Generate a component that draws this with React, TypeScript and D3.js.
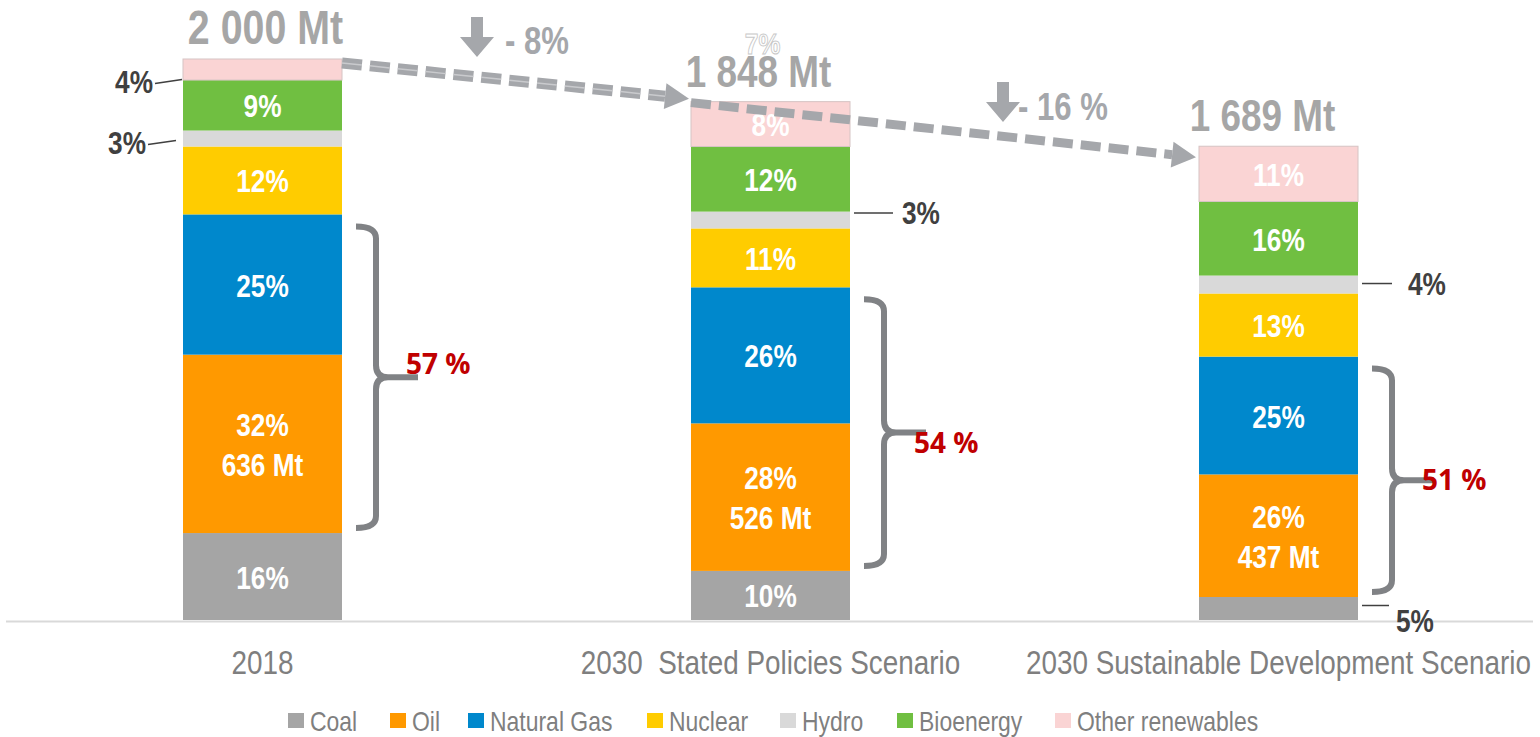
import React from 'react'
import * as d3 from 'd3'

const categories = ['2018', '2030  Stated Policies Scenario', '2030 Sustainable Development Scenario']
const sources = ['Coal', 'Oil', 'Natural Gas', 'Nuclear', 'Hydro', 'Bioenergy', 'Other renewables']
const colors = ['#a5a5a5', '#ff9900', '#0088cc', '#ffcc00', '#d9d9d9', '#70bf41', '#fad4d4']

// Mt per source
const coal = [310, 175, 82]
const oil = [636, 526, 437]
const gas = [500, 485, 420]
const nuclear = [242, 210, 225]
const hydro = [57, 60, 64]
const bio = [180, 232, 264]
const other = [75, 160, 197]

const totals = ['2 000 Mt', '1 848 Mt', '1 689 Mt']
const insideLabels = [
  ['16%', '32%|636 Mt', '25%', '12%', '', '9%', ''],
  ['10%', '28%|526 Mt', '26%', '11%', '', '12%', '8%'],
  ['', '26%|437 Mt', '25%', '13%', '', '16%', '11%'],
]
// small segments labelled outside: [bar, source index, text]
const outsideLabels: [number, number, string][] = [
  [0, 6, '4%'],
  [0, 4, '3%'],
  [1, 4, '3%'],
  [2, 4, '4%'],
  [2, 0, '5%'],
]
const shares = ['57 %', '54 %', '51 %']
const changes = ['- 8%', '- 16 %']

const series = [coal, oil, gas, nuclear, hydro, bio, other]
const rows = categories.map((c, i) => {
  const r: any = { cat: c }
  sources.forEach((s, k) => (r[s] = series[k][i]))
  return r
})

const W = 1540
const H = 737
const barW = 159
const FONT = "'Liberation Sans', Arial, sans-serif"
const SX = 0.82 // fake Arial Narrow
const GREY = '#a5a7ab'

// narrow text: squeeze horizontally around its anchor point
function NText(props: any) {
  const { x, y, children, ...rest } = props
  return (
    <g transform={`translate(${x},${y}) scale(${SX},1)`}>
      <text x={0} y={0} fontFamily={FONT} style={{ whiteSpace: 'pre' }} {...rest}>
        {children}
      </text>
    </g>
  )
}

export default function App() {
  const x = d3.scalePoint<string>().domain(categories).range([262.5, 1278.5])
  const y = d3.scaleLinear().domain([0, 2000]).range([620, 59])
  const stack = d3.stack<any>().keys(sources)(rows)

  const cx = (i: number) => x(categories[i]) as number
  const top = (i: number) => y(stack[stack.length - 1][i][1])

  const arrow = (x1: number, y1: number, x2: number, y2: number, key: string, double: boolean) => {
    const a = Math.atan2(y2 - y1, x2 - x1)
    const hl = 24
    const hw = 13
    const bx = x2 - hl * Math.cos(a)
    const by = y2 - hl * Math.sin(a)
    const px = -Math.sin(a)
    const py = Math.cos(a)
    const head = [
      [x2, y2],
      [bx + hw * px, by + hw * py],
      [bx - hw * px, by - hw * py],
    ]
    return (
      <g key={key}>
        <line x1={x1} y1={y1} x2={bx} y2={by} stroke={GREY} strokeWidth={double ? 11 : 9} strokeDasharray="20 8" />
        {double && (
          <line x1={x1} y1={y1} x2={bx} y2={by} stroke="#c9cacd" strokeWidth={1.5} strokeDasharray="20 8" />
        )}
        <polygon points={head.map(p => p.join(',')).join(' ')} fill={GREY} />
      </g>
    )
  }

  const downArrow = (ax: number, ay: number, key: string) => (
    <polygon
      key={key}
      points={[
        [ax - 6, ay],
        [ax + 6, ay],
        [ax + 6, ay + 20],
        [ax + 17, ay + 20],
        [ax, ay + 40],
        [ax - 17, ay + 20],
        [ax - 6, ay + 20],
      ]
        .map(p => p.join(','))
        .join(' ')}
      fill={GREY}
    />
  )

  const brace = (i: number) => {
    const y0 = y(stack[2][i][1]) + 12
    const y1 = y(stack[0][i][1]) - 5
    const xs = cx(i) + barW / 2 + 14
    const xv = xs + 20
    const ym = (y0 + y1) / 2
    const r = 12
    const d = `M${xs},${y0} Q${xv},${y0} ${xv},${y0 + r} L${xv},${ym - r} Q${xv},${ym} ${xv + r},${ym} L${xv + 42},${ym}
      M${xv + r},${ym} Q${xv},${ym} ${xv},${ym + r} L${xv},${y1 - r} Q${xv},${y1} ${xs},${y1}`
    return (
      <g key={'b' + i}>
        <path d={d} fill="none" stroke="#808285" strokeWidth={6} />
        <text
          x={xv + 30}
          y={ym + (i === 0 ? -3 : i === 1 ? 20 : 10)}
          fill="#c00000"
          fontFamily="'Open Sans', sans-serif"
          fontWeight="bold"
          fontSize={28}
        >
          {shares[i]}
        </text>
      </g>
    )
  }

  const legendX = [288, 390, 468, 647, 780, 897, 1055]

  return (
    <svg width={W} height={H} style={{ position: 'absolute', left: 0, top: 0, background: '#fff' }}>
      <line x1={6} x2={1533} y1={621.5} y2={621.5} stroke="#d9d9d9" strokeWidth={2} />

      {stack.map((s, k) =>
        s.map((d, i) => (
          <rect
            key={k + '-' + i}
            x={cx(i) - barW / 2}
            y={y(d[1])}
            width={barW}
            height={y(d[0]) - y(d[1])}
            fill={colors[k]}
            stroke={k === 6 ? '#d6c4c4' : 'none'}
            strokeWidth={1}
          />
        ))
      )}

      {stack.map((s, k) =>
        s.map((d, i) => {
          const lbl = insideLabels[i][k]
          if (!lbl) return null
          const parts = lbl.split('|')
          const mid = (y(d[0]) + y(d[1])) / 2
          return parts.map((p, j) => (
            <NText
              key={'l' + k + '-' + i + '-' + j}
              x={cx(i)}
              y={mid + 12 - (parts.length - 1) * 20 + j * 40}
              textAnchor="middle"
              fill="#fff"
              fontWeight="bold"
              fontSize={32}
            >
              {p}
            </NText>
          ))
        })
      )}

      {outsideLabels.map(([i, k, t], n) => {
        const d = stack[k][i]
        const mid = (y(d[0]) + y(d[1])) / 2
        const left = i === 0
        const bx = left ? cx(i) - barW / 2 : cx(i) + barW / 2
        if (left) {
          const top6 = k === 6
          const dy = top6 ? 11 : 3
          const lx1 = top6 ? bx - 28 : bx - 35
          return (
            <g key={'o' + n}>
              <line x1={lx1} y1={mid + dy + 3} x2={bx - (top6 ? 1 : 7)} y2={mid + dy - 1} stroke="#404040" strokeWidth={1.5} />
              <NText x={lx1 - 2} y={mid + dy + 12} textAnchor="end" fill="#404040" fontWeight="bold" fontSize={32}>
                {t}
              </NText>
            </g>
          )
        }
        const coalRow = k === 0
        const ly = coalRow ? mid - 3 : mid - 4 + (i === 2 ? 3 : -3)
        const lx2 = coalRow ? bx + 31 : bx + (i === 2 ? 34 : 43)
        const tx = coalRow ? bx + 38 : lx2 + (i === 2 ? 16 : 9)
        const ty = coalRow ? mid + 24 : ly + 11
        return (
          <g key={'o' + n}>
            <line x1={bx + 4} y1={ly} x2={lx2} y2={ly} stroke="#404040" strokeWidth={1.5} />
            <NText x={tx} y={ty} fill="#404040" fontWeight="bold" fontSize={32}>
              {t}
            </NText>
          </g>
        )
      })}

      <NText
        x={cx(1) - 8}
        y={top(1) - 48}
        textAnchor="middle"
        fill="#fff"
        stroke="#c8c8c8"
        strokeWidth={1}
        fontWeight="bold"
        fontSize={30}
      >
        7%
      </NText>

      {totals.map((t, i) => (
        <NText
          key={'t' + i}
          x={cx(i) + (i === 0 ? 3 : -12 - (i === 2 ? 4 : 0))}
          y={top(i) - 15}
          textAnchor="middle"
          fill="#a6a6a6"
          fontWeight="bold"
          fontSize={i === 0 ? 48 : 45}
        >
          {t}
        </NText>
      ))}

      {arrow(cx(0) + barW / 2, top(0) + 4, cx(1) - barW / 2 - 2, top(1) - 3, 'a1', true)}
      {arrow(cx(1) - barW / 2, top(1) + 1, cx(2) - barW / 2 - 3, top(2) + 11, 'a2', false)}

      {downArrow(477, 17, 'd1')}
      <NText x={505} y={54} fill={GREY} fontWeight="bold" fontSize={38}>
        {changes[0]}
      </NText>
      {downArrow(1003, 82, 'd2')}
      <NText x={1018} y={120} fill={GREY} fontWeight="bold" fontSize={38}>
        {changes[1]}
      </NText>

      {categories.map((_, i) => brace(i))}

      {categories.map((c, i) => (
        <NText key={'c' + i} x={cx(i)} y={674} textAnchor="middle" fill="#7f7f7f" fontSize={34}>
          {c}
        </NText>
      ))}

      {sources.map((s, k) => (
        <g key={'g' + k}>
          <rect x={legendX[k]} y={713} width={16} height={15} fill={colors[k]} />
          <NText x={legendX[k] + 22} y={731} fill="#7f7f7f" fontSize={28}>
            {s}
          </NText>
        </g>
      ))}
    </svg>
  )
}
